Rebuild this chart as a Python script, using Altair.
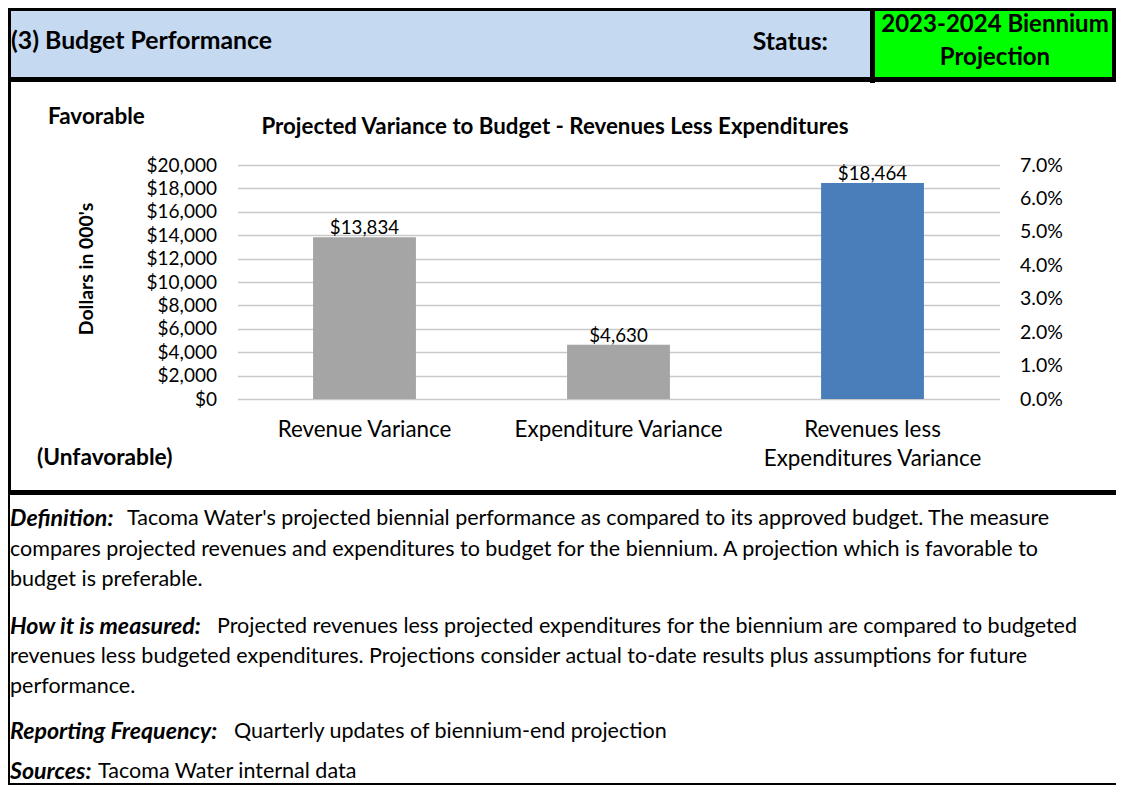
import altair as alt
import pandas as pd

# ---------------- data ----------------
categories = ["Revenue Variance", "Expenditure Variance", "Revenues less|Expenditures Variance"]
variance_values = [13834, 4630, 18464]
dollar_ticks = [0, 2000, 4000, 6000, 8000, 10000, 12000, 14000, 16000, 18000, 20000]
pct_ticks = [0.0, 0.01, 0.02, 0.03, 0.04, 0.05, 0.06, 0.07]

header_title = "(3) Budget Performance"
status_label = "Status:"
status_lines = ["2023-2024 Biennium", "Projection"]
chart_title = "Projected Variance to Budget - Revenues Less Expenditures"
y_title = "Dollars in 000's"
favorable = "Favorable"
unfavorable = "(Unfavorable)"

definition_label = "Definition:"
definition_lines = [
    "Tacoma Water's projected biennial performance as compared to its approved budget. The measure",
    "compares projected revenues and expenditures to budget for the biennium. A projection which is favorable to",
    "budget is preferable.",
]
measured_label = "How it is measured:"
measured_lines = [
    "Projected revenues less projected expenditures for the biennium are compared to budgeted",
    "revenues less budgeted expenditures. Projections consider actual to-date results plus assumptions for future",
    "performance.",
]
frequency_label = "Reporting Frequency:"
frequency_text = "Quarterly updates of biennium-end projection"
sources_label = "Sources:"
sources_text = "Tacoma Water internal data"

df = pd.DataFrame({"cat": categories, "val": variance_values})
pct_df = pd.DataFrame({"pct": [pct_ticks[0]]})

# ---------------- layout ----------------
FONT = "Lato"
GRAY = "#A5A5A5"
BLUE = "#4A7EBB"
HEADER_BLUE = "#C5D9F1"
GREEN = "#00FF00"

# page coordinates of plot area origin
OX, OY = 237.5, 165.0
PW, PH = 762, 234
SVG_W, SVG_H = 1108, 777
PAD_L, PAD_T = OX - 8, OY - 8
PAD_R = SVG_W - PAD_L - PW
PAD_B = SVG_H - PAD_T - PH

BODY = 21.5
LABEL = 23.2
HEAD = 24.8

one = alt.Data(values=[{"k": 0}])


def rect(x1, y1, x2, y2, color):
    return alt.Chart(one).mark_rect(color=color, strokeWidth=0).encode(
        x=alt.value(x1 - OX), x2=alt.value(x2 - OX),
        y=alt.value(y1 - OY), y2=alt.value(y2 - OY),
    )


def txt(s, X, Y, size=18, weight="normal", style="normal", align="left",
        baseline="middle", angle=0, color="black"):
    return alt.Chart(one).mark_text(
        text=s, font=FONT, fontSize=size, fontWeight=weight, fontStyle=style,
        align=align, baseline=baseline, angle=angle, color=color,
    ).encode(x=alt.value(X - OX), y=alt.value(Y - OY))


deco = [
    # header fills
    rect(8, 8, 870, 77, HEADER_BLUE),
    rect(875, 8, 1112, 77, GREEN),
    # borders
    rect(8, 8, 1116, 11, "black"),
    rect(8, 77, 1116, 82, "black"),
    rect(870, 8, 875, 83, "black"),
    rect(1112, 8, 1116, 82, "black"),
    rect(8, 8, 11, 495, "black"),
    rect(8, 490, 1116, 495, "black"),
    rect(8, 495, 10, 785, "black"),
    rect(8, 783, 1116, 785, "black"),
]

texts = [
    txt(header_title, 11, 42, size=HEAD, weight="bold"),
    txt(status_label, 828, 43, size=HEAD, weight="bold", align="right"),
    txt(status_lines[0], 995, 25, size=24, weight="bold", align="center"),
    txt(status_lines[1], 995, 58, size=24, weight="bold", align="center"),
    txt(favorable, 48, 117, size=22.5, weight="bold"),
    txt(chart_title, 555, 127, size=22.3, weight="bold", align="center"),
    txt(unfavorable, 37, 458, size=22.7, weight="bold"),
    txt(y_title, 87, 269, size=19.4, weight="bold", align="center", angle=270),
    # text section
    txt(definition_label, 10, 519, size=LABEL, weight="bold", style="italic"),
    txt(definition_lines[0], 127, 519, size=BODY),
    txt(definition_lines[1], 10, 550, size=BODY),
    txt(definition_lines[2], 10, 580, size=BODY),
    txt(measured_label, 10, 627, size=LABEL, weight="bold", style="italic"),
    txt(measured_lines[0], 217, 627, size=BODY),
    txt(measured_lines[1], 10, 657, size=BODY),
    txt(measured_lines[2], 10, 687, size=BODY),
    txt(frequency_label, 10, 732, size=LABEL, weight="bold", style="italic"),
    txt(frequency_text, 234, 732, size=BODY),
    txt(sources_label, 10, 772, size=LABEL, weight="bold", style="italic"),
    txt(sources_text, 98, 772, size=BODY),
]

x_enc = alt.X(
    "cat:N", sort=categories, title=None,
    scale=alt.Scale(paddingInner=0.595, paddingOuter=0.2975),
    axis=alt.Axis(
        orient="bottom", domain=False, ticks=False, labelAngle=0,
        labelFont=FONT, labelFontSize=22.4, labelColor="black",
        labelPadding=19, labelLineHeight=29, labelBaseline="top",
        labelLimit=400, labelExpr="split(datum.label, '|')",
    ),
)
y_scale = alt.Scale(domain=[0, 20000], nice=False, zero=True)

bars = alt.Chart(df).mark_bar().encode(
    x=x_enc,
    y=alt.Y(
        "val:Q", scale=y_scale, title=None,
        axis=alt.Axis(
            orient="left", values=dollar_ticks, format="$,.0f",
            domain=False, ticks=False, labelPadding=21,
            labelFont=FONT, labelFontSize=19, labelColor="black",
            grid=True, gridColor="#C9C9C9", gridWidth=1.3,
        ),
    ),
    color=alt.condition(alt.datum.cat == categories[2], alt.value(BLUE), alt.value(GRAY)),
)

labels = alt.Chart(df).mark_text(
    baseline="alphabetic", dy=-3, font=FONT, fontSize=18.7, color="black"
).encode(
    x=alt.X("cat:N", sort=categories),
    y=alt.Y("val:Q", scale=y_scale, axis=None),
    text=alt.Text("val:Q", format="$,.0f"),
)

pct_axis = alt.Chart(pct_df).mark_point(opacity=0).encode(
    y=alt.Y(
        "pct:Q", title=None,
        scale=alt.Scale(domain=[0, 0.07], nice=False),
        axis=alt.Axis(
            orient="right", values=pct_ticks, format=".1%",
            domain=False, ticks=False, grid=False, labelPadding=20,
            labelFont=FONT, labelFontSize=19.5, labelColor="black",
        ),
    ),
)

chart = alt.layer(
    *deco, bars, labels, pct_axis, *texts
).resolve_scale(y="independent").properties(
    width=PW, height=PH,
    autosize=alt.AutoSizeParams(type="none"),
    padding={"left": PAD_L, "top": PAD_T, "right": PAD_R, "bottom": PAD_B},
    background="white",
).configure_view(stroke=None)

chart.save("out.html", embed_options={"renderer": "svg", "actions": False})
